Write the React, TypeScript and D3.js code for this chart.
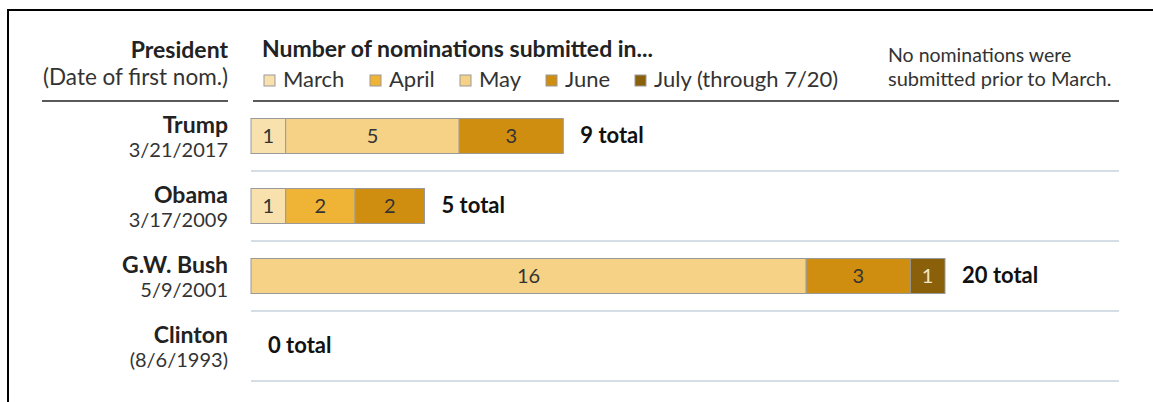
import React from "react";
import * as d3 from "d3";

const presidents = ["Trump", "Obama", "G.W. Bush", "Clinton"];
const firstNomDates = ["3/21/2017", "3/17/2009", "5/9/2001", "(8/6/1993)"];
const months = ["March", "April", "May", "June", "July (through 7/20)"];
const monthKeys = ["mar", "apr", "may", "jun", "jul"];
const marchValues = [1, 1, 0, 0];
const aprilValues = [0, 2, 0, 0];
const mayValues = [5, 0, 16, 0];
const juneValues = [3, 2, 3, 0];
const julyValues = [0, 0, 1, 0];
const monthColors = ["#F8E1AD", "#EFB435", "#F6D287", "#CF8E10", "#8A600B"];
const labelColors = ["#333", "#333", "#333", "#333", "#F3E6C8"];

const W = 1153;
const H = 402;
const FONT = "Lato, 'Open Sans', sans-serif";

export default function App() {
  const rows = presidents.map((p, i) => ({
    name: p,
    date: firstNomDates[i],
    mar: marchValues[i],
    apr: aprilValues[i],
    may: mayValues[i],
    jun: juneValues[i],
    jul: julyValues[i],
  }));
  const stacked = d3.stack<any>().keys(monthKeys)(rows);
  const totals = rows.map((r) => monthKeys.reduce((s, k) => s + (r as any)[k], 0));

  const x = d3.scaleLinear().domain([0, 20]).range([251, 945]);
  const y = d3.scaleBand().domain(presidents).range([101, 381]).paddingInner(0).paddingOuter(0);
  const barH = 35;
  const cy = (p: string) => (y(p) as number) + y.bandwidth() / 2;

  const legendX = [264, 370, 460, 546, 635];

  return (
    <svg width={W} height={H} style={{ position: "absolute", left: 0, top: 0, fontFamily: FONT }}>
      <rect x={0} y={0} width={W} height={H} fill="#fff" />
      {/* frame */}
      <line x1={8} y1={10} x2={W} y2={10} stroke="#000" strokeWidth={2} />
      <line x1={8} y1={9} x2={8} y2={H} stroke="#000" strokeWidth={2} />

      {/* header */}
      <text x={228} y={58} textAnchor="end" fontSize={23} fontWeight="bold" fill="#222">President</text>
      <text x={228} y={85} textAnchor="end" fontSize={22.5} fill="#333">(Date of first nom.)</text>
      <line x1={42} y1={101} x2={228} y2={101} stroke="#222" strokeWidth={1.3} />

      <text x={262} y={57} fontSize={23} fontWeight="bold" fill="#222">Number of nominations submitted in...</text>
      {months.map((m, i) => (
        <g key={m}>
          <rect x={legendX[i]} y={75} width={11} height={11} fill={monthColors[i]} stroke="#999" strokeWidth={1} />
          <text x={legendX[i] + 19} y={87} fontSize={22} fill="#333">{m}</text>
        </g>
      ))}
      <text x={888} y={62} fontSize={19.5} fill="#333">No nominations were</text>
      <text x={888} y={86} fontSize={20} fill="#333">submitted prior to March.</text>
      <line x1={253} y1={101} x2={1119} y2={101} stroke="#222" strokeWidth={1.3} />

      {/* row labels and separators */}
      {rows.map((r, i) => (
        <g key={r.name}>
          <text x={228} y={cy(r.name) - 3} textAnchor="end" fontSize={23} fontWeight="bold" fill="#222">{r.name}</text>
          <text x={228} y={cy(r.name) + 21} textAnchor="end" fontSize={20} fill="#333">{r.date}</text>
          <line x1={251} x2={1119} y1={(y(r.name) as number) + y.bandwidth()} y2={(y(r.name) as number) + y.bandwidth()} stroke="#D5DEE6" strokeWidth={2} />
          <text x={x(totals[i]) + 17} y={cy(r.name) + 7} fontSize={22} fontWeight="bold" fill="#111">{totals[i]} total</text>
        </g>
      ))}

      {/* bars */}
      {stacked.map((series, si) => (
        <g key={series.key}>
          {series.map((d, i) => {
            const v = d[1] - d[0];
            if (v <= 0) return null;
            const p = presidents[i];
            return (
              <g key={p}>
                <rect x={x(d[0])} y={cy(p) - barH / 2} width={x(d[1]) - x(d[0])} height={barH} fill={monthColors[si]} stroke="#9A9A9A" strokeWidth={1} />
                <text x={(x(d[0]) + x(d[1])) / 2} y={cy(p) + 7} textAnchor="middle" fontSize={20} fill={labelColors[si]}>{v}</text>
              </g>
            );
          })}
        </g>
      ))}
    </svg>
  );
}
